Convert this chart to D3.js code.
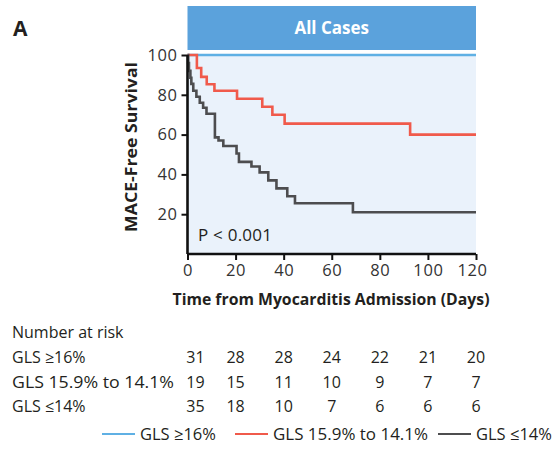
<!DOCTYPE html>
<html><head><meta charset="utf-8">
<script src="https://cdn.jsdelivr.net/npm/d3@7"></script>
<style>
body{margin:0;background:#fff;}
svg{display:block;font-family:"Open Sans",sans-serif;}
</style></head>
<body>
<svg id="chart" width="559" height="451"></svg>
<script>
const xTicks = [0, 20, 40, 60, 80, 100, 120];
const yTicks = [20, 40, 60, 80, 100];
const groups = ["GLS \u226516%", "GLS 15.9% to 14.1%", "GLS \u226414%"];
const colors = ["#5fb0e4", "#f05a4b", "#4d4d4f"];

const blueTimes = [0, 120];
const blueSurv  = [100, 100];
const redTimes  = [0, 3.9, 5.7, 8, 11.2, 20.6, 31.1, 35.3, 40.4, 92.6, 120];
const redSurv   = [100, 93.5, 89, 85.3, 82, 78, 74, 70, 65.5, 60, 60];
const grayTimes = [0, 0.3, 0.6, 1.2, 1.6, 2.4, 3.7, 5.1, 6.5, 7.9, 11.4, 12.9, 14.9, 20.4, 21.4, 26.6, 30, 33.6, 37, 41.5, 44.7, 68.8, 120];
const graySurv  = [100, 96, 92, 88.6, 85.5, 82, 79, 76, 73.5, 70.5, 58.6, 57, 54.3, 50.5, 46.3, 44, 41, 37, 33, 29, 25.5, 21, 21];

const riskHigh = [31, 28, 28, 24, 22, 21, 20];
const riskMid  = [19, 15, 11, 10, 9, 7, 7];
const riskLow  = [35, 18, 10, 7, 6, 6, 6];

const svg = d3.select("#chart");
const x = d3.scaleLinear().domain([0, 120]).range([187.5, 476]);
const y = d3.scaleLinear().domain([0, 100]).range([254, 55]);
const textCol = "#231f20";

// panel letter
svg.append("text").attr("x", 13).attr("y", 36).attr("font-size", 21).attr("font-weight", 700)
  .attr("fill", textCol).text("A");

// header bar
svg.append("rect").attr("x", x(0)).attr("y", 6).attr("width", x(120) - x(0)).attr("height", 44)
  .attr("fill", "#5ba2dc");
svg.append("text").attr("x", (x(0) + x(120)) / 2).attr("y", 34).attr("text-anchor", "middle")
  .attr("font-size", 17).attr("font-weight", 700).attr("fill", "#fff").text("All Cases");

// plot background
svg.append("rect").attr("x", x(0)).attr("y", y(100)).attr("width", x(120) - x(0)).attr("height", y(0) - y(100))
  .attr("fill", "#eaf2fb");

// curves
const line = d3.line().x(d => x(d[0])).y(d => y(d[1])).curve(d3.curveStepAfter);
const series = [
  d3.zip(blueTimes, blueSurv),
  d3.zip(redTimes, redSurv),
  d3.zip(grayTimes, graySurv)
];
series.forEach((s, i) => {
  svg.append("path").datum(s).attr("d", line).attr("fill", "none")
    .attr("stroke", colors[i]).attr("stroke-width", 2.6);
});

// axes
const gx = svg.append("g").attr("transform", `translate(0,${y(0)})`)
  .call(d3.axisBottom(x).tickValues(xTicks).tickSize(6).tickPadding(4));
const gy = svg.append("g").attr("transform", `translate(${x(0)},0)`)
  .call(d3.axisLeft(y).tickValues(yTicks).tickSize(6).tickPadding(4));
[gx, gy].forEach(g => {
  g.select(".domain").attr("stroke", "#111").attr("stroke-width", 2.6);
  g.selectAll(".tick line").attr("stroke", "#111").attr("stroke-width", 2);
  g.selectAll(".tick text").attr("font-size", 16.5).attr("letter-spacing", 0.6).attr("fill", "#333")
    .attr("font-family", "'Open Sans',sans-serif");
});
gx.selectAll(".tick text").filter(d => d === 120).attr("dx", -4);
gy.select(".domain").attr("d", `M0,${y(0)}V${y(100)}`);
gx.select(".domain").attr("d", `M${x(0)},0H${x(120)}`);

// axis titles
svg.append("text").attr("x", 331).attr("y", 305).attr("text-anchor", "middle")
  .attr("font-size", 15.5).attr("font-weight", 700).attr("fill", textCol)
  .attr("textLength", 317).attr("lengthAdjust", "spacingAndGlyphs")
  .text("Time from Myocarditis Admission (Days)");
svg.append("text").attr("transform", `translate(137,147) rotate(-90)`).attr("text-anchor", "middle")
  .attr("font-size", 16).attr("font-weight", 700).attr("fill", textCol)
  .attr("textLength", 170).attr("lengthAdjust", "spacingAndGlyphs")
  .text("MACE-Free Survival");

// p value
svg.append("text").attr("x", 198).attr("y", 241).attr("font-size", 17).attr("fill", textCol)
  .attr("textLength", 74)
  .text("P < 0.001");

// number at risk
svg.append("text").attr("x", 12).attr("y", 338).attr("font-size", 16).attr("fill", textCol)
  .text("Number at risk");
const risks = [riskHigh, riskMid, riskLow];
const rowY = [363, 387.5, 412];
risks.forEach((r, i) => {
  const t = svg.append("text").attr("x", 12).attr("y", rowY[i]).attr("font-size", 16).attr("fill", textCol)
    .text(groups[i]);
  if (i === 1) t.attr("textLength", 162).attr("lengthAdjust", "spacingAndGlyphs");
  r.forEach((v, j) => {
    const cx = j === 0 ? x(xTicks[j]) + 8 : x(xTicks[j]);
    svg.append("text").attr("x", cx).attr("y", rowY[i]).attr("text-anchor", "middle")
      .attr("font-size", 16).attr("fill", textCol).text(v);
  });
});

// legend
const legX = [102, 235, 438];
groups.forEach((g, i) => {
  svg.append("line").attr("x1", legX[i]).attr("x2", legX[i] + 33).attr("y1", 434).attr("y2", 434)
    .attr("stroke", colors[i]).attr("stroke-width", 2.2);
  const t = svg.append("text").attr("x", legX[i] + 38).attr("y", 440).attr("font-size", 16.5).attr("fill", textCol)
    .text(g);
  if (i === 1) t.attr("textLength", 155).attr("lengthAdjust", "spacingAndGlyphs");
});
</script>
</body></html>
